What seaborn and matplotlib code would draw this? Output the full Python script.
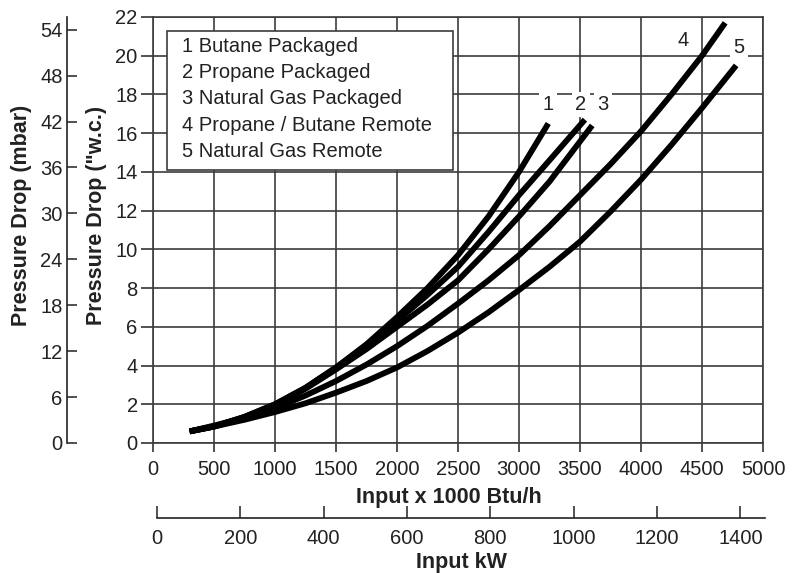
import matplotlib
matplotlib.use('Agg')
import matplotlib.pyplot as plt
import seaborn as sns
from matplotlib.patches import Rectangle

sns.set_style('ticks')
plt.rcParams['font.family'] = ['Liberation Sans', 'DejaVu Sans']

# curves: input (x 1000 Btu/h) vs pressure drop ("w.c.)
btu_1 = [300, 500, 750, 1000, 1250, 1500, 1750, 2000, 2250, 2500, 2750, 3000, 3240]
dp_1 = [0.6, 0.85, 1.35, 2.0, 2.85, 3.9, 5.1, 6.5, 8.0, 9.7, 11.7, 14.0, 16.5]
btu_2 = [300, 500, 750, 1000, 1250, 1500, 1750, 2000, 2250, 2500, 2750, 3000, 3250, 3540]
dp_2 = [0.6, 0.85, 1.35, 2.0, 2.85, 3.9, 5.0, 6.3, 7.65, 9.1, 10.9, 12.8, 14.6, 16.7]
btu_3 = [300, 500, 750, 1000, 1250, 1500, 1750, 2000, 2250, 2500, 2750, 3000, 3250, 3600]
dp_3 = [0.6, 0.85, 1.3, 1.95, 2.8, 3.8, 4.85, 6.0, 7.15, 8.4, 10.0, 11.7, 13.5, 16.4]
btu_4 = [300, 500, 750, 1000, 1250, 1500, 1750, 2000, 2250, 2500, 2750, 3000, 3250,
         3500, 3750, 4000, 4250, 4500, 4690]
dp_4 = [0.6, 0.9, 1.3, 1.8, 2.45, 3.2, 4.05, 5.0, 6.05, 7.2, 8.4, 9.7, 11.2,
        12.8, 14.4, 16.1, 18.0, 20.0, 21.7]
btu_5 = [300, 500, 750, 1000, 1250, 1500, 1750, 2000, 2250, 2500, 2750, 3000, 3250,
         3500, 3750, 4000, 4250, 4500, 4780]
dp_5 = [0.6, 0.85, 1.2, 1.6, 2.05, 2.6, 3.2, 3.9, 4.75, 5.7, 6.75, 7.9, 9.1,
        10.4, 11.95, 13.6, 15.4, 17.3, 19.5]

curve_names = ['1', '2', '3', '4', '5']
label_x = [3238, 3508, 3689, 4344, 4803]
label_y = [17.5, 17.5, 17.5, 20.8, 20.45]
legend_lines = ['1 Butane Packaged', '2 Propane Packaged', '3 Natural Gas Packaged',
                '4 Propane / Butane Remote', '5 Natural Gas Remote']

btu_ticks = list(range(0, 5001, 500))
wc_ticks = list(range(0, 23, 2))
mbar_ticks = list(range(0, 55, 6))
kw_ticks = list(range(0, 1401, 200))
mbar_per_wc = 2.53

ink = '#222222'
grid_c = '#3c3c3c'
fs = 14.5

fig = plt.figure(figsize=(7.93, 5.73), dpi=100)
ax = fig.add_axes([153 / 793, 130 / 573, 610 / 793, 426 / 573])

curves = [(btu_1, dp_1), (btu_2, dp_2), (btu_3, dp_3), (btu_4, dp_4), (btu_5, dp_5)]
for xs, ys in curves:
    sns.lineplot(x=xs, y=ys, ax=ax, color='black', linewidth=4.2, sort=False,
                 solid_capstyle='butt', solid_joinstyle='round', zorder=3)

for name, lx, ly in zip(curve_names, label_x, label_y):
    ax.text(lx, ly, name, fontsize=fs, color=ink, ha='center', va='center', zorder=2,
            bbox=dict(boxstyle='square,pad=0.15', fc='white', ec='none'))

ax.set_xlim(0, 5000)
ax.set_ylim(0, 22)
ax.set_xticks(btu_ticks)
ax.set_yticks(wc_ticks)
ax.grid(True, color=grid_c, linewidth=1.2)
for s in ax.spines.values():
    s.set_color(grid_c)
    s.set_linewidth(1.2)
ax.tick_params(axis='y', direction='out', length=9, width=1.1, color=ink,
               labelsize=fs, labelcolor=ink, pad=2)
ax.tick_params(axis='x', direction='out', length=6.5, width=1.1, color=ink,
               labelsize=fs, labelcolor=ink, pad=6)
ax.set_xlabel('Input x 1000 Btu/h', fontsize=15.5, fontweight='bold', color=ink)
ax.xaxis.set_label_coords(0.485, -0.103)
ax.set_ylabel('Pressure Drop ("w.c.)', fontsize=15.5, fontweight='bold', color=ink)
ax.yaxis.set_label_coords(-0.075, 0.535)

# legend box with plain text entries
ax.add_patch(Rectangle((0.023, 0.641), 0.469, 0.326, transform=ax.transAxes,
                       fc='white', ec=grid_c, lw=1.2, zorder=5))
for i, line in enumerate(legend_lines):
    ax.text(0.0475, 0.930 - i * 0.0612, line, transform=ax.transAxes, fontsize=fs,
            color=ink, ha='left', va='center', zorder=6)

# mbar axis on the far left
ax2 = ax.twinx()
ax2.set_ylim(0, 22 * mbar_per_wc)
ax2.set_yticks(mbar_ticks)
ax2.yaxis.set_ticks_position('left')
ax2.yaxis.set_label_position('left')
for side in ['right', 'top', 'bottom']:
    ax2.spines[side].set_visible(False)
ax2.spines['left'].set_position(('outward', 62))
ax2.spines['left'].set_color(ink)
ax2.spines['left'].set_linewidth(1.2)
ax2.tick_params(axis='y', direction='in', length=7, width=1.1, color=ink,
                labelsize=fs, labelcolor=ink, pad=3)
ax2.set_ylabel('Pressure Drop (mbar)', fontsize=15.5, fontweight='bold', color=ink)
ax2.yaxis.set_label_coords(-0.198, 0.535)

# kW axis below
axk = fig.add_axes([157 / 793, 55 / 573, 608 / 793, 0.001])
axk.set_xlim(0, 608 / 0.4167)
axk.set_xticks(kw_ticks)
axk.set_yticks([])
axk.patch.set_visible(False)
for side in ['left', 'right', 'top']:
    axk.spines[side].set_visible(False)
axk.spines['bottom'].set_color(ink)
axk.spines['bottom'].set_linewidth(1.2)
axk.tick_params(axis='x', direction='in', length=8.5, width=1.1, color=ink,
                labelsize=fs, labelcolor=ink, pad=8)
axk.set_xlabel('Input kW', fontsize=15.5, fontweight='bold', color=ink, labelpad=3)

fig.savefig('out.png', dpi=100)
